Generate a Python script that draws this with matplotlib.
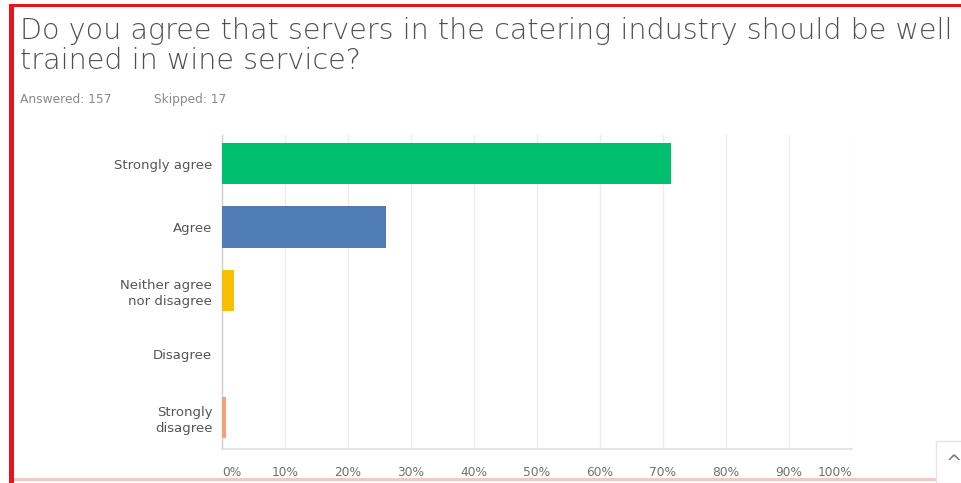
import matplotlib
matplotlib.use("Agg")
import matplotlib.pyplot as plt
from matplotlib.patches import Rectangle

# Survey responses (share of respondents, %)
categories = ["Strongly agree", "Agree", "Neither agree\nnor disagree",
              "Disagree", "Strongly\ndisagree"]
shares = [71.34, 26.11, 1.91, 0.0, 0.64]
bar_colors = ["#00BF6F", "#507CB6", "#F9BE00", "#6BC8CD", "#F2A27A"]
tick_values = [0, 10, 20, 30, 40, 50, 60, 70, 80, 90, 100]
tick_labels = [f"{v}%" for v in tick_values]
answered = 157
skipped = 17

W, H = 962, 483
fig = plt.figure(figsize=(W / 100, H / 100), dpi=100)
fig.patch.set_facecolor("white")

# red frame on the top and left edges, pale line at the bottom
fig.patches.append(Rectangle((9 / W, 0), 5 / W, 1 - 4 / H, transform=fig.transFigure,
                             facecolor="#E8141B", edgecolor="none"))
fig.patches.append(Rectangle((9 / W, 1 - 7 / H), 1 - 9 / W, 3 / H, transform=fig.transFigure,
                             facecolor="#E8141B", edgecolor="none"))
fig.patches.append(Rectangle((14 / W, 2 / H), 1 - 14 / W, 3 / H, transform=fig.transFigure,
                             facecolor="#F7C8C0", edgecolor="none"))

# question title
title_kw = dict(fontsize=20.6, color="#505050", family="DejaVu Sans",
                fontweight="light", ha="left", va="baseline")
fig.text(20 / W, 1 - 39 / H,
         "Do you agree that servers in the catering industry should be well", **title_kw)
fig.text(20 / W, 1 - 69 / H, "trained in wine service?", **title_kw)
fig.text(20 / W, 1 - 103 / H, f"Answered: {answered}", fontsize=8.8,
         color="#8a8a8a", ha="left", va="baseline")
fig.text(154 / W, 1 - 103 / H, f"Skipped: {skipped}", fontsize=8.8,
         color="#8a8a8a", ha="left", va="baseline")

ax = fig.add_axes([222 / W, 1 - 449 / H, 630 / W, 314 / H])
ypos = list(range(len(categories)))
ax.barh(ypos, shares, height=0.65, color=bar_colors, zorder=3)
ax.set_xlim(0, 100)
ax.set_ylim(4.5, -0.45)

ax.set_xticks(tick_values)
ax.set_xticklabels(tick_labels)
ax.set_yticks(ypos)
ax.set_yticklabels(categories, ha="right", linespacing=1.3)
ax.tick_params(axis="x", length=0, pad=12, labelsize=8.8, labelcolor="#707070")
ax.tick_params(axis="y", length=0, pad=7, labelsize=9.5, labelcolor="#555555")

# end labels sit inside the axis span
lbls = ax.get_xticklabels()
lbls[0].set_horizontalalignment("left")
lbls[-1].set_horizontalalignment("right")

ax.grid(axis="x", color="#ececec", linewidth=1, zorder=0)
for side in ["top", "right"]:
    ax.spines[side].set_visible(False)
ax.spines["left"].set_color("#d0d0d0")
ax.spines["bottom"].set_color("#e0e0e0")
ax.spines["left"].set_linewidth(1)
ax.spines["bottom"].set_linewidth(1.2)

# scroll-to-top button in the corner
fig.patches.append(Rectangle((936 / W, 0), 40 / W, 42 / H, transform=fig.transFigure,
                             facecolor="white", edgecolor="#e4e4e4", linewidth=1))
fig.text(946 / W, 10 / H, "^", fontsize=14, color="#6a7a8a", ha="left", va="bottom")

fig.savefig("out.png", dpi=100, facecolor="white")
